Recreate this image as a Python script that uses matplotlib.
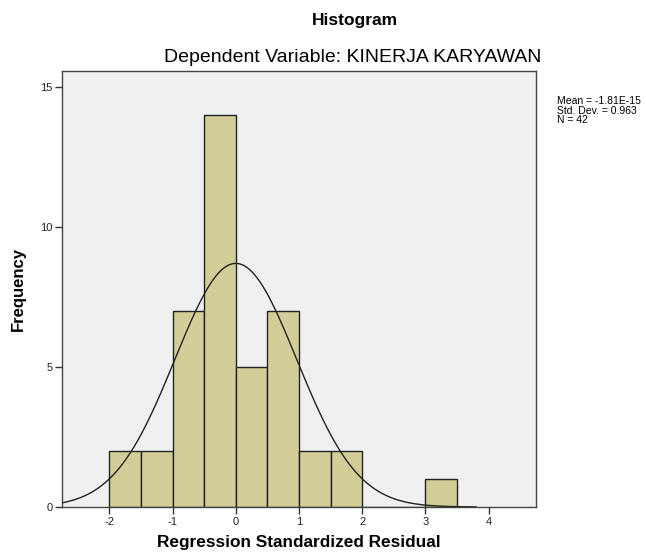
import numpy as np
import matplotlib
matplotlib.use("Agg")
import matplotlib.pyplot as plt

plt.rcParams['font.family'] = ['Liberation Sans', 'DejaVu Sans']
plt.rcParams['axes.unicode_minus'] = False

bin_edges = [-2.0, -1.5, -1.0, -0.5, 0.0, 0.5, 1.0, 1.5, 2.0, 2.5, 3.0, 3.5]
counts = [2, 2, 7, 14, 5, 7, 2, 2, 0, 0, 1]
mean = -1.81e-15
std = 0.963
n = 42
bin_width = 0.5

fig = plt.figure(figsize=(6.46, 5.57), dpi=100)
ax = fig.add_axes([62/646, 50/557, 474/646, 436/557])
ax.set_facecolor('#f0f0f0')

lefts = bin_edges[:-1]
ax.bar(lefts, counts, width=bin_width, align='edge', color='#d3ce97',
       edgecolor='#222222', linewidth=1.0, zorder=2)

xs = np.linspace(-2.75, 3.8, 400)
ys = n * bin_width / (std * np.sqrt(2 * np.pi)) * np.exp(-0.5 * ((xs - mean) / std) ** 2)
ax.plot(xs, ys, color='#222222', linewidth=1.0, zorder=3)

ax.set_xlim(-2.75, 4.75)
ax.set_ylim(0, 15.57)
ax.set_xticks([-2, -1, 0, 1, 2, 3, 4])
ax.set_yticks([0, 5, 10, 15])
ax.tick_params(axis='both', direction='out', length=5, width=1, labelsize=8,
               color='#333333', labelcolor='#222222', pad=2)
for s in ax.spines.values():
    s.set_color('#444444')
    s.set_linewidth(1.0)

ax.set_xlabel('Regression Standardized Residual', fontsize=12.4, fontweight='bold', labelpad=6)
ax.set_ylabel('Frequency', fontsize=12, fontweight='bold', labelpad=10)

fig.text(355/646, 1 - 20/557, 'Histogram', ha='center', va='center', fontsize=12.5, fontweight='bold')
fig.text(353/646, 1 - 57/557, 'Dependent Variable: KINERJA KARYAWAN', ha='center', va='center', fontsize=14)

fig.text(557/646, 1 - 96/557, 'Mean = -1.81E-15\nStd. Dev. = 0.963\nN = 42',
         ha='left', va='top', fontsize=7.5, linespacing=0.95)

fig.savefig('out.png', dpi=100, facecolor='white')
